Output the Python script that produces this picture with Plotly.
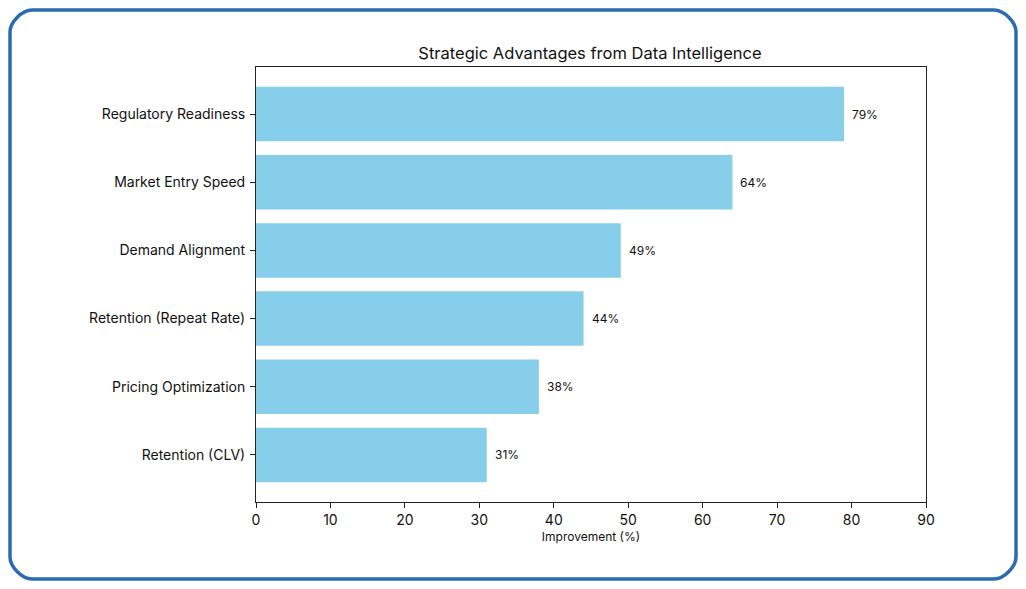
import plotly.graph_objects as go

categories = ["Retention (CLV)", "Pricing Optimization", "Retention (Repeat Rate)",
              "Demand Alignment", "Market Entry Speed", "Regulatory Readiness"]
values = [31, 38, 44, 49, 64, 79]
x_ticks = [0, 10, 20, 30, 40, 50, 60, 70, 80, 90]

W, H = 1026, 589
L, R, T, B = 256, 100, 67, 87
pw, ph = W - L - R, H - T - B

def px(x):
    return (x - L) / pw

def py(y):
    return (H - B - y) / ph

FONT = "Inter"
pos = list(range(len(categories)))

fig = go.Figure()
fig.add_trace(go.Bar(
    x=values, y=pos, orientation="h", width=0.8,
    marker=dict(color="#87CEEB", line=dict(width=0)),
    hoverinfo="skip",
))

for v, p in zip(values, pos):
    fig.add_annotation(x=v, y=p, text=f"{v}%", showarrow=False,
                       xanchor="left", xshift=6,
                       font=dict(family=FONT, size=12, color="#111"))

# rounded border
x0, x1, y0, y1, r = 10, 1016, 10, 579, 22
k = 0.45 * r
path = (f"M {px(x0 + r)},{py(y0)} L {px(x1 - r)},{py(y0)} "
        f"C {px(x1 - r + k)},{py(y0)} {px(x1)},{py(y0 + r - k)} {px(x1)},{py(y0 + r)} "
        f"L {px(x1)},{py(y1 - r)} "
        f"C {px(x1)},{py(y1 - r + k)} {px(x1 - r + k)},{py(y1)} {px(x1 - r)},{py(y1)} "
        f"L {px(x0 + r)},{py(y1)} "
        f"C {px(x0 + r - k)},{py(y1)} {px(x0)},{py(y1 - r + k)} {px(x0)},{py(y1 - r)} "
        f"L {px(x0)},{py(y0 + r)} "
        f"C {px(x0)},{py(y0 + r - k)} {px(x0 + r - k)},{py(y0)} {px(x0 + r)},{py(y0)} Z")
fig.add_shape(type="path", path=path, xref="paper", yref="paper",
              line=dict(color="#2B6CB0", width=3.5), layer="above")

fig.update_layout(
    width=W, height=H,
    margin=dict(l=L, r=R, t=T, b=B),
    paper_bgcolor="white", plot_bgcolor="white",
    showlegend=False,
    bargap=0.2,
    title=dict(text="Strategic Advantages from Data Intelligence",
               x=590 / W, xanchor="center", y=1 - 53 / H, yanchor="middle",
               font=dict(family=FONT, size=16.5, color="#111")),
    font=dict(family=FONT, color="#111"),
)
fig.update_xaxes(range=[0, 90], tickvals=x_ticks, ticks="outside", ticklen=5,
                 tickcolor="#222", showgrid=False, zeroline=False,
                 showline=True, linecolor="#222", linewidth=1, mirror=True,
                 tickfont=dict(family=FONT, size=14, color="#111"),
                 title=dict(text="Improvement (%)", standoff=5,
                            font=dict(family=FONT, size=12, color="#111")))
fig.update_yaxes(range=[-0.69, 5.69], tickvals=pos, ticktext=categories,
                 ticks="outside", ticklen=5, tickcolor="#222",
                 ticklabelstandoff=2,
                 showgrid=False, zeroline=False,
                 showline=True, linecolor="#222", linewidth=1, mirror=True,
                 tickfont=dict(family=FONT, size=14, color="#111"))

fig.write_html("out.html")
